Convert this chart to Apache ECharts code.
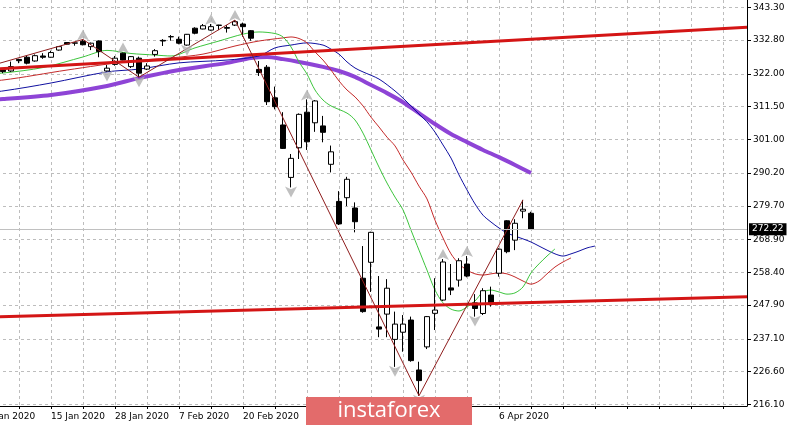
<!DOCTYPE html>
<html><head><meta charset="utf-8">
<script src="https://cdn.jsdelivr.net/npm/echarts@6/dist/echarts.min.js"></script>
<style>html,body{margin:0;padding:0;background:#fff}#c{width:789px;height:429px}</style>
</head><body><div id="c"></div>
<script>
// ---- data (daily bars, index k = 0..66) ----
const dates = ['7 Jan','8 Jan','9 Jan','10 Jan','13 Jan','14 Jan','15 Jan','16 Jan','17 Jan','21 Jan','22 Jan','23 Jan','24 Jan','27 Jan','28 Jan','29 Jan','30 Jan','31 Jan',
'3 Feb','4 Feb','5 Feb','6 Feb','7 Feb','10 Feb','11 Feb','12 Feb','13 Feb','14 Feb','18 Feb','19 Feb','20 Feb','21 Feb','24 Feb','25 Feb','26 Feb','27 Feb','28 Feb',
'2 Mar','3 Mar','4 Mar','5 Mar','6 Mar','9 Mar','10 Mar','11 Mar','12 Mar','13 Mar','16 Mar','17 Mar','18 Mar','19 Mar','20 Mar','23 Mar','24 Mar','25 Mar','26 Mar','27 Mar','30 Mar','31 Mar',
'1 Apr','2 Apr','3 Apr','6 Apr','7 Apr','8 Apr','9 Apr','13 Apr'];
const opens  = [323.2,322.9,326.6,327.3,326.1,327.7,327.3,329.6,332.0,331.8,332.4,330.7,332.5,322.9,325.0,328.6,324.3,327.0,323.5,328.2,332.7,333.85,333.05,331.2,336.6,336.35,336.0,337.6,336.8,337.6,337.95,335.8,323.4,324.1,314.3,305.6,288.8,298.3,309.7,306.3,305.3,293.0,281.1,282.3,279.0,256.5,261.6,240.9,245.0,236.9,239.2,243.1,227.1,234.5,245.25,249.5,253.4,255.9,261.05,248.6,245.2,251.1,258.1,274.9,268.7,278.0,277.3];
const closes = [322.7,324.3,326.2,325.4,327.8,327.3,328.8,330.7,331.5,331.9,331.3,331.8,329.1,323.8,327.0,326.4,327.5,322.2,324.5,329.4,332.5,333.9,331.8,334.65,335.0,337.4,337.1,337.5,336.6,338.7,337.1,333.4,322.4,313.05,311.45,298.1,294.9,309.0,300.2,313.3,303.25,297.0,273.9,288.2,274.6,245.8,271.2,240.2,253.3,241.8,241.8,230.1,223.7,244.2,246.3,261.7,252.7,262.1,257.2,246.8,252.5,248.5,265.8,265.0,274.1,278.6,272.22];
const lows   = [322.2,322.6,325.4,325.0,325.9,326.8,327.2,329.4,331.4,331.0,331.1,329.6,327.3,322.7,324.6,326.3,323.85,320.9,323.2,327.5,330.9,332.6,331.45,331.0,334.65,336.25,335.8,336.0,335.2,337.3,333.9,332.6,321.3,312.0,310.6,297.9,285.6,294.7,297.6,303.4,300.05,290.4,273.55,279.6,271.2,245.45,252.1,237.6,237.6,228.1,232.95,229.75,218.85,233.8,239.9,249.2,251.1,253.8,256.8,244.2,244.7,247.4,257.0,264.5,265.5,275.7,272.2];
const highs  = [323.7,325.9,326.8,327.7,328.2,328.6,329.4,330.9,332.1,332.1,333.0,332.0,332.7,324.8,327.7,328.8,327.7,327.5,325.4,329.9,333.1,334.4,333.9,334.75,336.9,337.95,337.95,337.7,337.6,339.2,338.4,336.0,326.1,324.8,317.9,309.7,296.3,309.3,313.8,313.6,308.5,299.0,284.4,289.0,280.8,266.8,271.4,257.2,256.2,245.8,244.7,244.2,229.75,244.4,256.5,262.65,261.05,262.9,263.6,251.4,253.3,253.8,266.1,275.1,275.4,281.6,277.8];
const lastPrice = 272.22;

// Alligator lines (jaw / teeth / lips) and slow average, as [bar index, price]
const jaw = [[-3,315.8],[0,316.5],[6,319.05],[13,322.6],[17,323.5],[22,325.5],[28,326.4],[32,327.7],[34,330.3],[36,331.2],[38,331.9],[40,331.2],[41,329.9],[42,328.3],[43,325.8],[44,323.85],[45,322.6],[47,320.3],[49,316.5],[50,314.2],[51,311.7],[52,309.1],[53,306.6],[54,303.3],[55,299.2],[56,295.0],[57,289.6],[58,284.8],[59,280.3],[60,276.7],[61,274.5],[62,272.6],[63,271.0],[64,270.0],[65,269.1],[66,268.1],[67,266.8],[68,265.5],[69,264.3],[70,263.6],[71,264.3],[72,265.2],[73,266.2],[74,266.8]];
const teeth = [[-3,319.7],[0,320.0],[8,323.2],[16,326.1],[21,327.1],[25,328.3],[29,330.9],[32,332.5],[35,333.5],[36,333.8],[37,333.3],[38,331.9],[39,329.0],[40,326.4],[41,323.2],[42,319.7],[43,316.8],[44,314.6],[45,311.7],[46,308.1],[47,304.95],[48,301.7],[49,298.9],[50,294.4],[51,290.5],[52,286.0],[53,281.9],[54,275.1],[55,269.4],[56,264.3],[57,261.1],[58,259.1],[59,257.9],[60,257.5],[61,257.9],[62,258.2],[63,257.9],[64,256.9],[65,255.6],[66,254.6],[67,255.6],[68,257.9],[69,260.1],[70,261.7],[71,263.0]];
const lips = [[-3,321.9],[0,322.25],[5,324.0],[10,327.4],[13,329.5],[16,328.5],[19,328.0],[21,327.7],[24,330.3],[27,332.5],[30,334.7],[32,335.4],[34,334.9],[35,333.8],[36,330.6],[37,325.8],[38,321.9],[39,316.8],[40,313.6],[41,311.7],[43,309.4],[44,307.2],[45,303.0],[46,297.6],[47,292.1],[48,287.0],[49,282.5],[50,278.4],[51,271.9],[52,265.5],[53,259.1],[54,252.7],[55,248.6],[56,246.6],[57,246.0],[58,247.3],[59,249.2],[60,252.1],[61,252.7],[62,252.1],[63,251.4],[64,251.8],[65,253.7],[66,258.2],[67,261.1],[68,263.6],[69,265.9]];
const slowMA = [[-3,313.6],[0,313.9],[6,315.2],[13,318.1],[17,320.6],[22,323.2],[28,325.5],[31,327.06],[33,327.4],[35,326.7],[37,325.8],[40,324.2],[42,322.9],[44,321.0],[46,318.4],[48,315.8],[50,312.9],[52,309.4],[54,305.9],[56,302.7],[58,300.1],[60,297.6],[62,295.3],[64,292.8],[66,290.2]];

// zigzag turning points and trend lines
const zigzag = [[-3,323.5],[10,333.0],[17,320.9],[29,339.23],[52,218.85],[65,281.6]];
const upperTrend = [[-3,323.2],[93,336.9]];
const lowerTrend = [[-3,244.0],[93,250.6]];

// fractal bars
const fractalUp = [10,15,26,29,38,55,58];
const fractalDown = [13,17,23,36,49,52,59];

// axis ticks and labels
const yTicks = [343.30,332.80,322.00,311.50,301.00,290.20,279.70,268.90,258.40,247.90,237.10,226.60,216.10];
const xTickK = [-2,2,6,10,14,18,22,26,30,34,38,42,46,50,54,58,62,66,70,74,78,82,86,90];
const xLabelK = [-2,6,14,22,30,38,46,62];
const xLabels = ['3 Jan 2020','15 Jan 2020','28 Jan 2020','7 Feb 2020','20 Feb 2020','3 Mar 2020','13 Mar 2020','6 Apr 2020'];

const candleData = dates.map((d, i) => [i, opens[i], closes[i], lows[i], highs[i]]);
const upData = fractalUp.map(k => [k, highs[k]]);
const downData = fractalDown.map(k => [k, lows[k]]);

const chart = echarts.init(document.getElementById('c'), null, {renderer: 'canvas'});
const FONT = 'DejaVu Sans';
function lineSeries(data, color, width, z, smooth) {
  return {type: 'line', data: data, showSymbol: false, symbol: 'none', smooth: smooth,
    lineStyle: {color: color, width: width}, z: z, silent: true, clip: true};
}
chart.setOption({
  animation: false,
  backgroundColor: '#ffffff',
  grid: {left: -21, right: 42, top: 0, bottom: 23, containLabel: false, outerBoundsMode: 'none'},
  xAxis: {
    type: 'value', min: -3, max: 93,
    axisLine: {show: true, onZero: false, lineStyle: {color: '#000', width: 1}},
    axisTick: {show: true, customValues: xTickK, length: 3, lineStyle: {color: '#000'}},
    axisLabel: {customValues: xLabelK, color: '#000', fontSize: 9, fontFamily: FONT, align: 'left', margin: 6,
      formatter: v => { const i = xLabelK.indexOf(Math.round(v)); return i >= 0 ? xLabels[i] : ''; }},
    splitLine: {show: true, lineStyle: {color: '#bdbdbd', width: 1, type: [3, 3]}}
  },
  yAxis: {
    type: 'value', position: 'right', min: 215.56, max: 345.64, scale: true,
    axisLine: {show: true, onZero: false, lineStyle: {color: '#000', width: 1}},
    axisTick: {show: true, customValues: yTicks, length: 4, lineStyle: {color: '#000'}},
    axisLabel: {customValues: yTicks, color: '#000', fontSize: 9, fontFamily: FONT, margin: 6,
      formatter: v => v.toFixed(2)},
    splitLine: {show: true, lineStyle: {color: '#bdbdbd', width: 1, type: [3, 3]}}
  },
  series: [
    lineSeries(slowMA, '#8e44d6', 4, 2, 0.3),
    lineSeries(jaw, '#1010a0', 1, 2, 0.3),
    lineSeries(teeth, '#c42a2a', 1, 2, 0.3),
    lineSeries(lips, '#3cc43c', 1, 2, 0.3),
    {
      type: 'candlestick', data: candleData, encode: {x: 0, y: [1, 2, 3, 4]},
      barWidth: 5, z: 3, silent: true,
      itemStyle: {color: '#ffffff', color0: '#000000', borderColor: '#000000', borderColor0: '#000000', borderWidth: 1},
      markLine: {
        symbol: 'none', silent: true, animation: false,
        data: [{yAxis: lastPrice}],
        lineStyle: {color: '#c0c0c0', type: 'solid', width: 1},
        label: {show: true, position: 'end', formatter: lastPrice.toFixed(2), backgroundColor: '#000', color: '#fff',
          padding: [2, 3, 1, 3], fontSize: 9, fontFamily: FONT, distance: 2}
      }
    },
    lineSeries(upperTrend, '#d41515', 3, 4, false),
    lineSeries(lowerTrend, '#d41515', 3, 4, false),
    lineSeries(zigzag, '#8e1c1c', 1, 4, false),
    {type: 'scatter', data: upData, symbol: 'arrow', symbolSize: [9, 11], symbolOffset: [0, -10],
      itemStyle: {color: '#b0b0b0'}, z: 5, silent: true},
    {type: 'scatter', data: downData, symbol: 'arrow', symbolSize: [9, 11], symbolRotate: 180, symbolOffset: [0, 10],
      itemStyle: {color: '#b0b0b0'}, z: 5, silent: true}
  ],
  graphic: [
    {type: 'rect', shape: {x: 306, y: 397, width: 166, height: 28}, style: {fill: '#e36b6b'}, z: 100},
    {type: 'text', x: 389, y: 411, style: {text: 'instaforex', fill: '#ffffff', font: '22px "Open Sans"', align: 'center', verticalAlign: 'middle'}, z: 101}
  ]
});
</script></body></html>
